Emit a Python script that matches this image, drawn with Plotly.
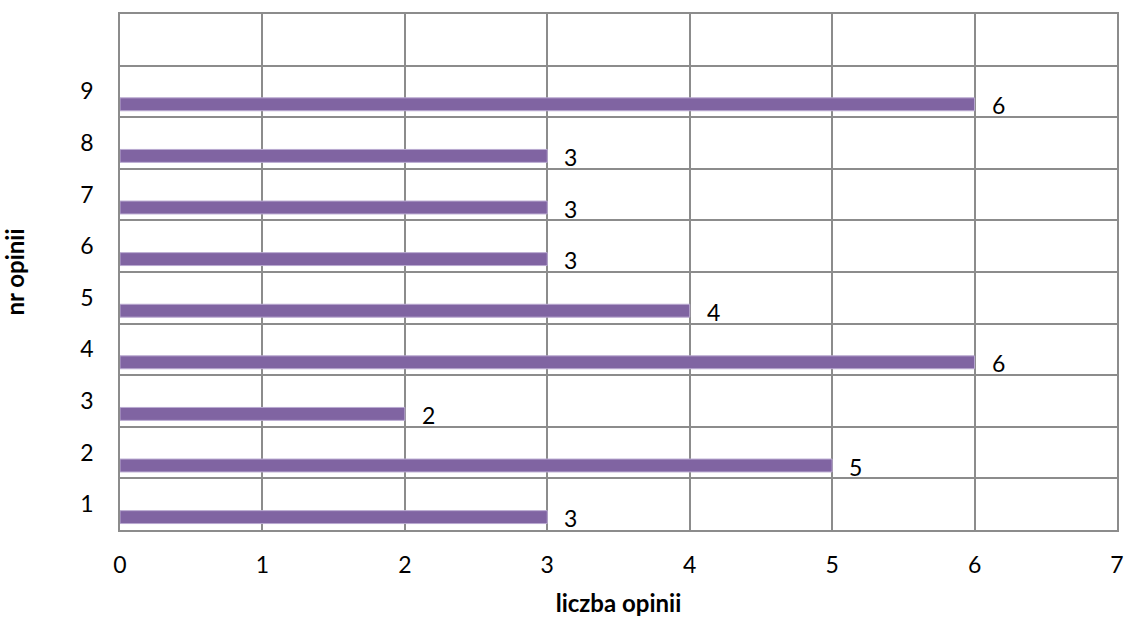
import plotly.graph_objects as go

categories = [1, 2, 3, 4, 5, 6, 7, 8, 9]
values = [3, 5, 2, 6, 4, 3, 3, 3, 6]
tick_labels = ["1", "2", "3", "4", "5", "6", "7", "8", "9"]

FONT = "Lato"
GRID = "#8C8C8C"

fig = go.Figure()
fig.add_trace(go.Bar(
    y=categories, x=values, orientation="h",
    width=0.25, offset=-0.375,
    marker=dict(color="#8064A2", line=dict(color="#B9A9D0", width=1)),
    hoverinfo="x+y",
))

for c, v in zip(categories, values):
    fig.add_annotation(x=v, y=c - 0.25, text=str(v), showarrow=False,
                       xanchor="left", yanchor="middle", xshift=15, yshift=-1,
                       font=dict(family=FONT, size=23, color="#000"))

fig.update_layout(
    width=1125, height=617,
    margin=dict(l=120, r=8, t=14, b=87, autoexpand=False),
    paper_bgcolor="white", plot_bgcolor="white",
    showlegend=False,
    font=dict(family=FONT, size=23, color="#000"),
    xaxis=dict(range=[0, 7], dtick=1, tick0=0, showgrid=True, gridcolor=GRID, gridwidth=1.5,
               showline=True, linecolor=GRID, linewidth=1.5, mirror=True, automargin=False,
               zeroline=False, ticks="", ticklabelstandoff=14,
               title=dict(text="<b>liczba opinii</b>", font=dict(family=FONT, size=24), standoff=26)),
    yaxis=dict(range=[0.5, 10.5], tickvals=categories, ticktext=tick_labels,
               showgrid=False, zeroline=False, ticks="", automargin=False,
               showline=True, linecolor=GRID, linewidth=1.5, mirror=True,
               ticklabelstandoff=20,
               minor=dict(tick0=0.5, dtick=1, showgrid=True, gridcolor=GRID, gridwidth=1.5, ticks=""),
               title=dict(text="<b>nr opinii</b>", font=dict(family=FONT, size=24), standoff=50)),
)

fig.write_html("out.html", config={"displayModeBar": False})
with open("out.html", encoding="utf-8") as f:
    html = f.read()
html = html.replace("<body>", '<body style="margin:0;overflow:hidden">', 1)
with open("out.html", "w", encoding="utf-8") as f:
    f.write(html)
